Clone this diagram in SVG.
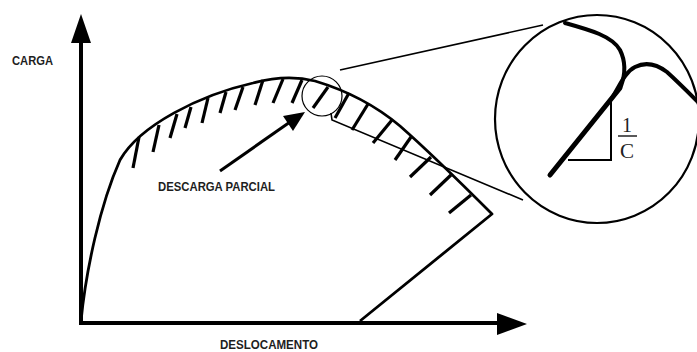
<svg xmlns="http://www.w3.org/2000/svg" width="697" height="352" viewBox="0 0 697 352">
<style>
.lbl{font-family:"Liberation Sans",Arial,sans-serif;font-weight:bold;font-size:12px;fill:#1e1e1e}
.curve{fill:none;stroke:#000;stroke-width:2.8;stroke-linejoin:round}
.hatch{fill:none;stroke:#000;stroke-width:3.2;stroke-linecap:butt}
.thin{fill:none;stroke:#000;stroke-width:1.6}
.axis{fill:none;stroke:#000;stroke-width:4}
</style>
<rect width="697" height="352" fill="#fff"/>
<g id="axes">
<line class="axis" x1="81" y1="40" x2="81" y2="323"/>
<polygon points="81,14 71,43 91,43" fill="#000"/>
<line class="axis" x1="79" y1="323" x2="500" y2="323"/>
<polygon points="527,324 497,313 497,335" fill="#000"/>
</g>
<g id="curve">
<path class="curve" d="M81,321 C86,270 100,205 120,160 C140,125 200,95 253,83 C275,77 295,76 315,81 C345,90 375,105 400,126 C425,148 460,182 492,214 L360,321"/>
</g>
<g id="hatches" class="hatch">
<line x1="139" y1="137" x2="133" y2="168"/>
<line x1="159" y1="125" x2="153" y2="152"/>
<line x1="177" y1="114" x2="170" y2="138"/>
<line x1="191" y1="107" x2="185" y2="128"/>
<line x1="208" y1="98" x2="202" y2="123"/>
<line x1="226" y1="92" x2="220" y2="113"/>
<line x1="243" y1="87" x2="235" y2="110"/>
<line x1="263" y1="80" x2="255" y2="105"/>
<line x1="283" y1="79" x2="273" y2="103"/>
<line x1="302" y1="80" x2="292" y2="103"/>
<line x1="328" y1="87" x2="313" y2="108"/>
<line x1="349" y1="93" x2="335" y2="118"/>
<line x1="368" y1="104" x2="352" y2="130"/>
<line x1="392" y1="120" x2="373" y2="143"/>
<line x1="411" y1="137" x2="395" y2="160"/>
<line x1="431" y1="157" x2="410" y2="177"/>
<line x1="451" y1="175" x2="430" y2="195"/>
<line x1="471" y1="195" x2="449" y2="213"/>
</g>
<g id="zoom">
<circle cx="322" cy="96" r="20" fill="none" stroke="#000" stroke-width="1.2"/>
<line class="thin" x1="340" y1="70" x2="543" y2="25"/>
<polyline class="thin" points="331,113 332,120 523,200"/>
<ellipse cx="597" cy="119" rx="102" ry="104" fill="none" stroke="#000" stroke-width="2.2"/>
</g>
<g id="detail">
<path d="M565,23 C590,30 612,36 620,50 C626,62 625,75 621,86" fill="none" stroke="#000" stroke-width="4" stroke-linecap="round"/>
<path d="M550,175 L620,88" fill="none" stroke="#000" stroke-width="5" stroke-linecap="round"/>
<path d="M612,98 C620,85 625,72 635,67 C645,62 655,63 667,72 C678,82 688,92 698,102" fill="none" stroke="#000" stroke-width="4" stroke-linecap="round"/>
<polyline points="611,100 611,160 568,160" fill="none" stroke="#000" stroke-width="2"/>
<text x="627" y="132" text-anchor="middle" font-family="Liberation Serif,serif" font-size="20" fill="#222">1</text>
<line x1="618" y1="136" x2="637" y2="136" stroke="#222" stroke-width="1.5"/>
<text x="627" y="158" text-anchor="middle" font-family="Liberation Serif,serif" font-size="21" fill="#222">C</text>
</g>
<g id="label-arrow">
<line x1="220" y1="171" x2="290" y2="122" stroke="#000" stroke-width="3"/>
<polygon points="305,112 283,116 293,131" fill="#000"/>
</g>
<text class="lbl" x="12" y="65" textLength="41" lengthAdjust="spacingAndGlyphs">CARGA</text>
<text class="lbl" x="158" y="191" textLength="117" lengthAdjust="spacingAndGlyphs">DESCARGA PARCIAL</text>
<text class="lbl" x="220" y="349" textLength="98" lengthAdjust="spacingAndGlyphs">DESLOCAMENTO</text>
</svg>
